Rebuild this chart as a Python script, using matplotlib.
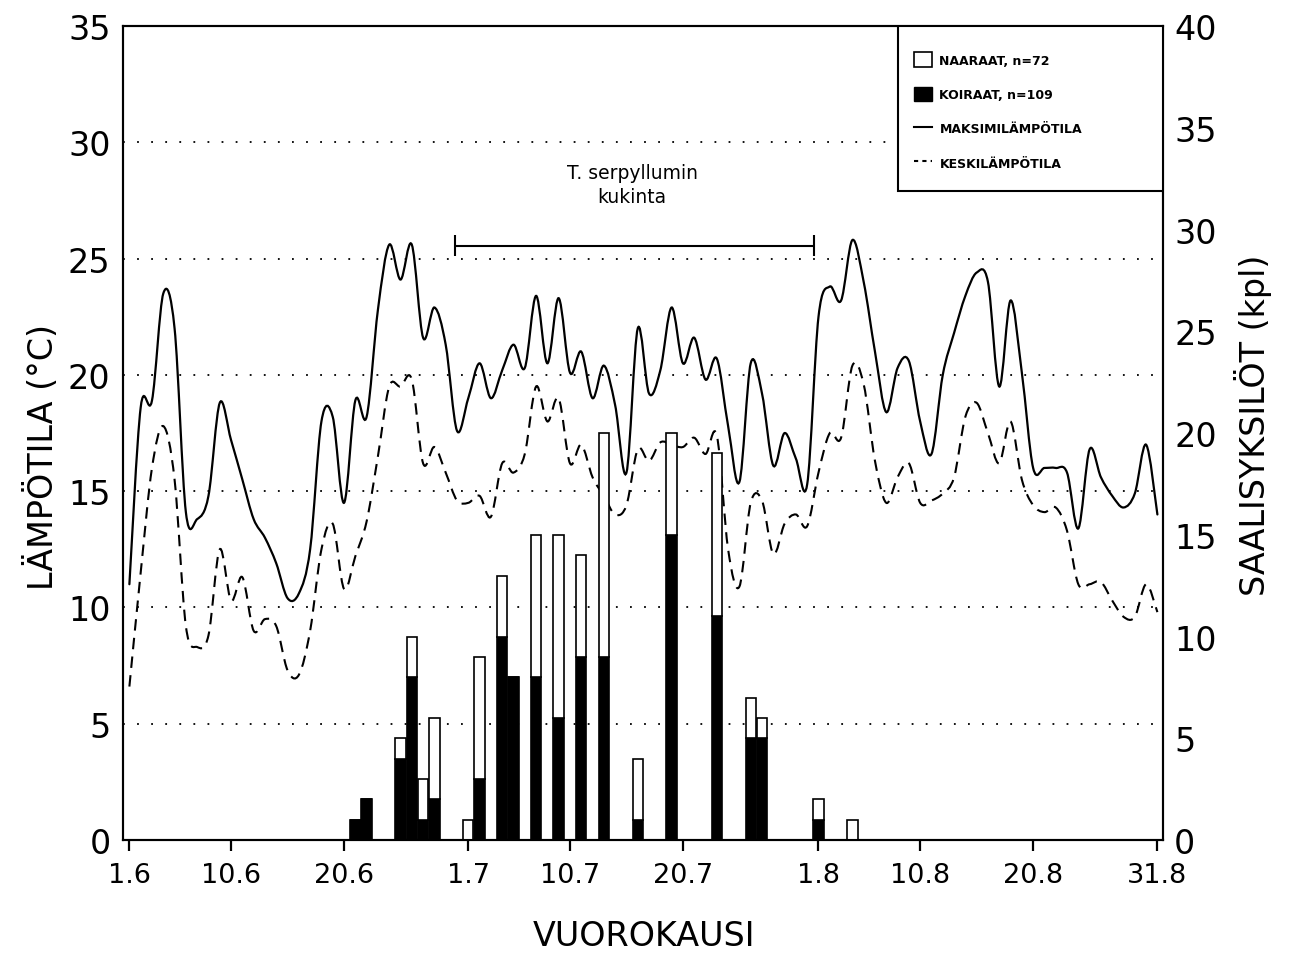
import numpy as np
import matplotlib.pyplot as plt
from matplotlib.patches import Patch, Rectangle, PathPatch
from matplotlib.lines import Line2D
from matplotlib.path import Path

# x-akseli: päivää 1.6. alkaen (1.6. = 0)
tick_days = [0, 9, 19, 30, 39, 49, 61, 70, 80, 91]
tick_labels = ['1.6', '10.6', '20.6', '1.7', '10.7', '20.7', '1.8', '10.8', '20.8', '31.8']

# vuorokauden lämpötilat 1.6.-31.8.
max_temp = [11.0, 18.6, 18.9, 23.5, 22.0, 14.1, 13.8, 14.8, 18.8, 17.2,
            15.5, 13.8, 13.0, 11.9, 10.4, 10.6, 12.5, 18.0, 18.2, 14.5,
            18.9, 18.2, 22.8, 25.6, 24.1, 25.6, 21.6, 22.9, 21.3, 17.6,
            19.0, 20.5, 19.0, 20.2, 21.3, 20.3, 23.4, 20.5, 23.3, 20.1,
            21.0, 19.0, 20.4, 18.7, 15.8, 22.0, 19.2, 20.2, 22.9, 20.5,
            21.6, 19.8, 20.7, 17.8, 15.4, 20.5, 19.2, 16.1, 17.5, 16.4,
            15.3, 22.5, 23.8, 23.2, 25.8, 24.0, 21.0, 18.4, 20.3, 20.6,
            18.0, 16.6, 20.0, 21.8, 23.4, 24.4, 24.0, 19.5, 23.2, 20.1,
            16.0, 16.0, 16.0, 15.8, 13.4, 16.8, 15.6, 14.8, 14.3, 14.9,
            17.0, 14.0]
mean_temp = [6.6, 11.5, 16.0, 17.8, 15.5, 9.2, 8.3, 8.8, 12.5, 10.3,
             11.3, 9.0, 9.5, 9.2, 7.3, 7.1, 9.0, 12.5, 13.6, 10.8,
             12.2, 13.7, 16.5, 19.5, 19.5, 19.8, 16.2, 16.9, 15.8, 14.6,
             14.5, 14.8, 13.9, 16.2, 15.8, 16.6, 19.5, 18.0, 19.0, 16.2,
             17.0, 15.6, 14.8, 14.0, 14.4, 16.8, 16.3, 17.1, 17.0, 16.9,
             17.3, 16.6, 17.4, 12.5, 10.9, 14.5, 14.6, 12.3, 13.6, 14.0,
             13.5, 15.8, 17.5, 17.3, 20.4, 19.6, 16.3, 14.5, 15.6, 16.2,
             14.5, 14.6, 14.9, 15.6, 18.2, 18.8, 17.5, 16.2, 18.0, 15.5,
             14.4, 14.1, 14.3, 13.3, 11.0, 11.0, 11.1, 10.3, 9.6, 9.6,
             11.0, 9.8]
temp_days = np.arange(len(max_temp))

# saalis
catch_days = [20, 21, 24, 25, 26, 27, 30, 31, 33, 34, 36, 38, 40, 42, 45, 48, 52, 55, 56, 61, 64]
males = [1, 2, 4, 8, 1, 2, 0, 3, 10, 8, 8, 6, 9, 9, 1, 15, 11, 5, 5, 1, 0]
females = [0, 0, 1, 2, 2, 4, 1, 6, 3, 0, 7, 9, 5, 11, 3, 5, 8, 2, 1, 1, 1]

grid_levels = [5, 10, 15, 20, 25, 30]
bloom_start, bloom_end, bloom_level = 28.8, 60.6, 25.55


def smooth_curve(x, y):
    # kayra pisteiden kautta (Catmull-Rom -> Bezier), vain piirtoa varten
    pts = np.column_stack([x, y]).astype(float)
    n = len(pts)
    verts = [pts[0]]
    codes = [Path.MOVETO]
    for i in range(n - 1):
        p0 = pts[max(i - 1, 0)]
        p1 = pts[i]
        p2 = pts[i + 1]
        p3 = pts[min(i + 2, n - 1)]
        verts += [p1 + (p2 - p0) / 6, p2 - (p3 - p1) / 6, p2]
        codes += [Path.CURVE4] * 3
    return Path(verts, codes)


fig = plt.figure(figsize=(12.94, 9.54), dpi=100)
ax = fig.add_axes([0.0951, 0.1184, 0.8037, 0.8532])
ax2 = ax.twinx()

for g in grid_levels:
    ax.axhline(g, color='black', lw=1.3, ls=(0, (1, 6.8)))

ax.add_patch(PathPatch(smooth_curve(temp_days, max_temp), fill=False,
                       edgecolor='black', lw=1.6, capstyle='round'))
ax.add_patch(PathPatch(smooth_curve(temp_days, mean_temp), fill=False,
                       edgecolor='black', lw=1.5, linestyle=(0, (5.5, 3.5))))

# kukinta-aika
ax.hlines(bloom_level, bloom_start, bloom_end, color='black', lw=1.5)
ax.vlines([bloom_start, bloom_end], bloom_level - 0.45, bloom_level + 0.45, color='black', lw=1.5)
ax.text(44.5, 28.2, 'T. serpyllumin\nkukinta', ha='center', va='center',
        fontsize=13.5, linespacing=1.35)

ax2.bar(catch_days, males, width=0.92, color='black', edgecolor='black', lw=1.2)
ax2.bar(catch_days, females, bottom=males, width=0.92, color='white',
        edgecolor='black', lw=1.2)

ax.set_xlim(-0.56, 91.5)
ax.set_ylim(0, 35)
ax2.set_ylim(0, 40)
ax.set_yticks(range(0, 40, 5))
ax2.set_yticks(range(0, 45, 5))
ax.set_xticks(tick_days, tick_labels)

ax.tick_params(axis='y', length=0, pad=9, labelsize=24)
ax2.tick_params(axis='y', length=0, pad=8, labelsize=24)
ax.tick_params(axis='x', length=8, width=1.6, pad=8, labelsize=19.5)
for a in (ax, ax2):
    for s in a.spines.values():
        s.set_linewidth(1.5)

fig.text(0.0325, 0.521, 'LÄMPÖTILA (°C)', rotation=90, ha='center', va='center', fontsize=24)
fig.text(0.968, 0.5545, 'SAALISYKSILÖT (kpl)', rotation=90, ha='center', va='center', fontsize=24)
fig.text(0.498, 0.018, 'VUOROKAUSI', ha='center', va='center', fontsize=24)

# selite
ax2.add_patch(Rectangle((0.745, 0.798), 0.255, 0.202, transform=ax2.transAxes,
                        facecolor='white', edgecolor='black', lw=1.5, zorder=5))
handles = [Patch(facecolor='white', edgecolor='black', lw=1.2),
           Patch(facecolor='black', edgecolor='black'),
           Line2D([], [], color='black', lw=1.5),
           Line2D([], [], color='black', lw=1.5, dashes=(2, 2))]
labels = ['NAARAAT, n=72', 'KOIRAAT, n=109', 'MAKSIMILÄMPÖTILA', 'KESKILÄMPÖTILA']
leg = ax2.legend(handles, labels, loc='upper left', bbox_to_anchor=(0.761, 0.968),
                 frameon=False, borderpad=0, borderaxespad=0,
                 prop={'size': 9, 'weight': 'bold'},
                 handlelength=1.4, handleheight=1.4, handletextpad=0.6, labelspacing=1.6)
leg.set_zorder(6)

fig.savefig('out.png', dpi=100)
